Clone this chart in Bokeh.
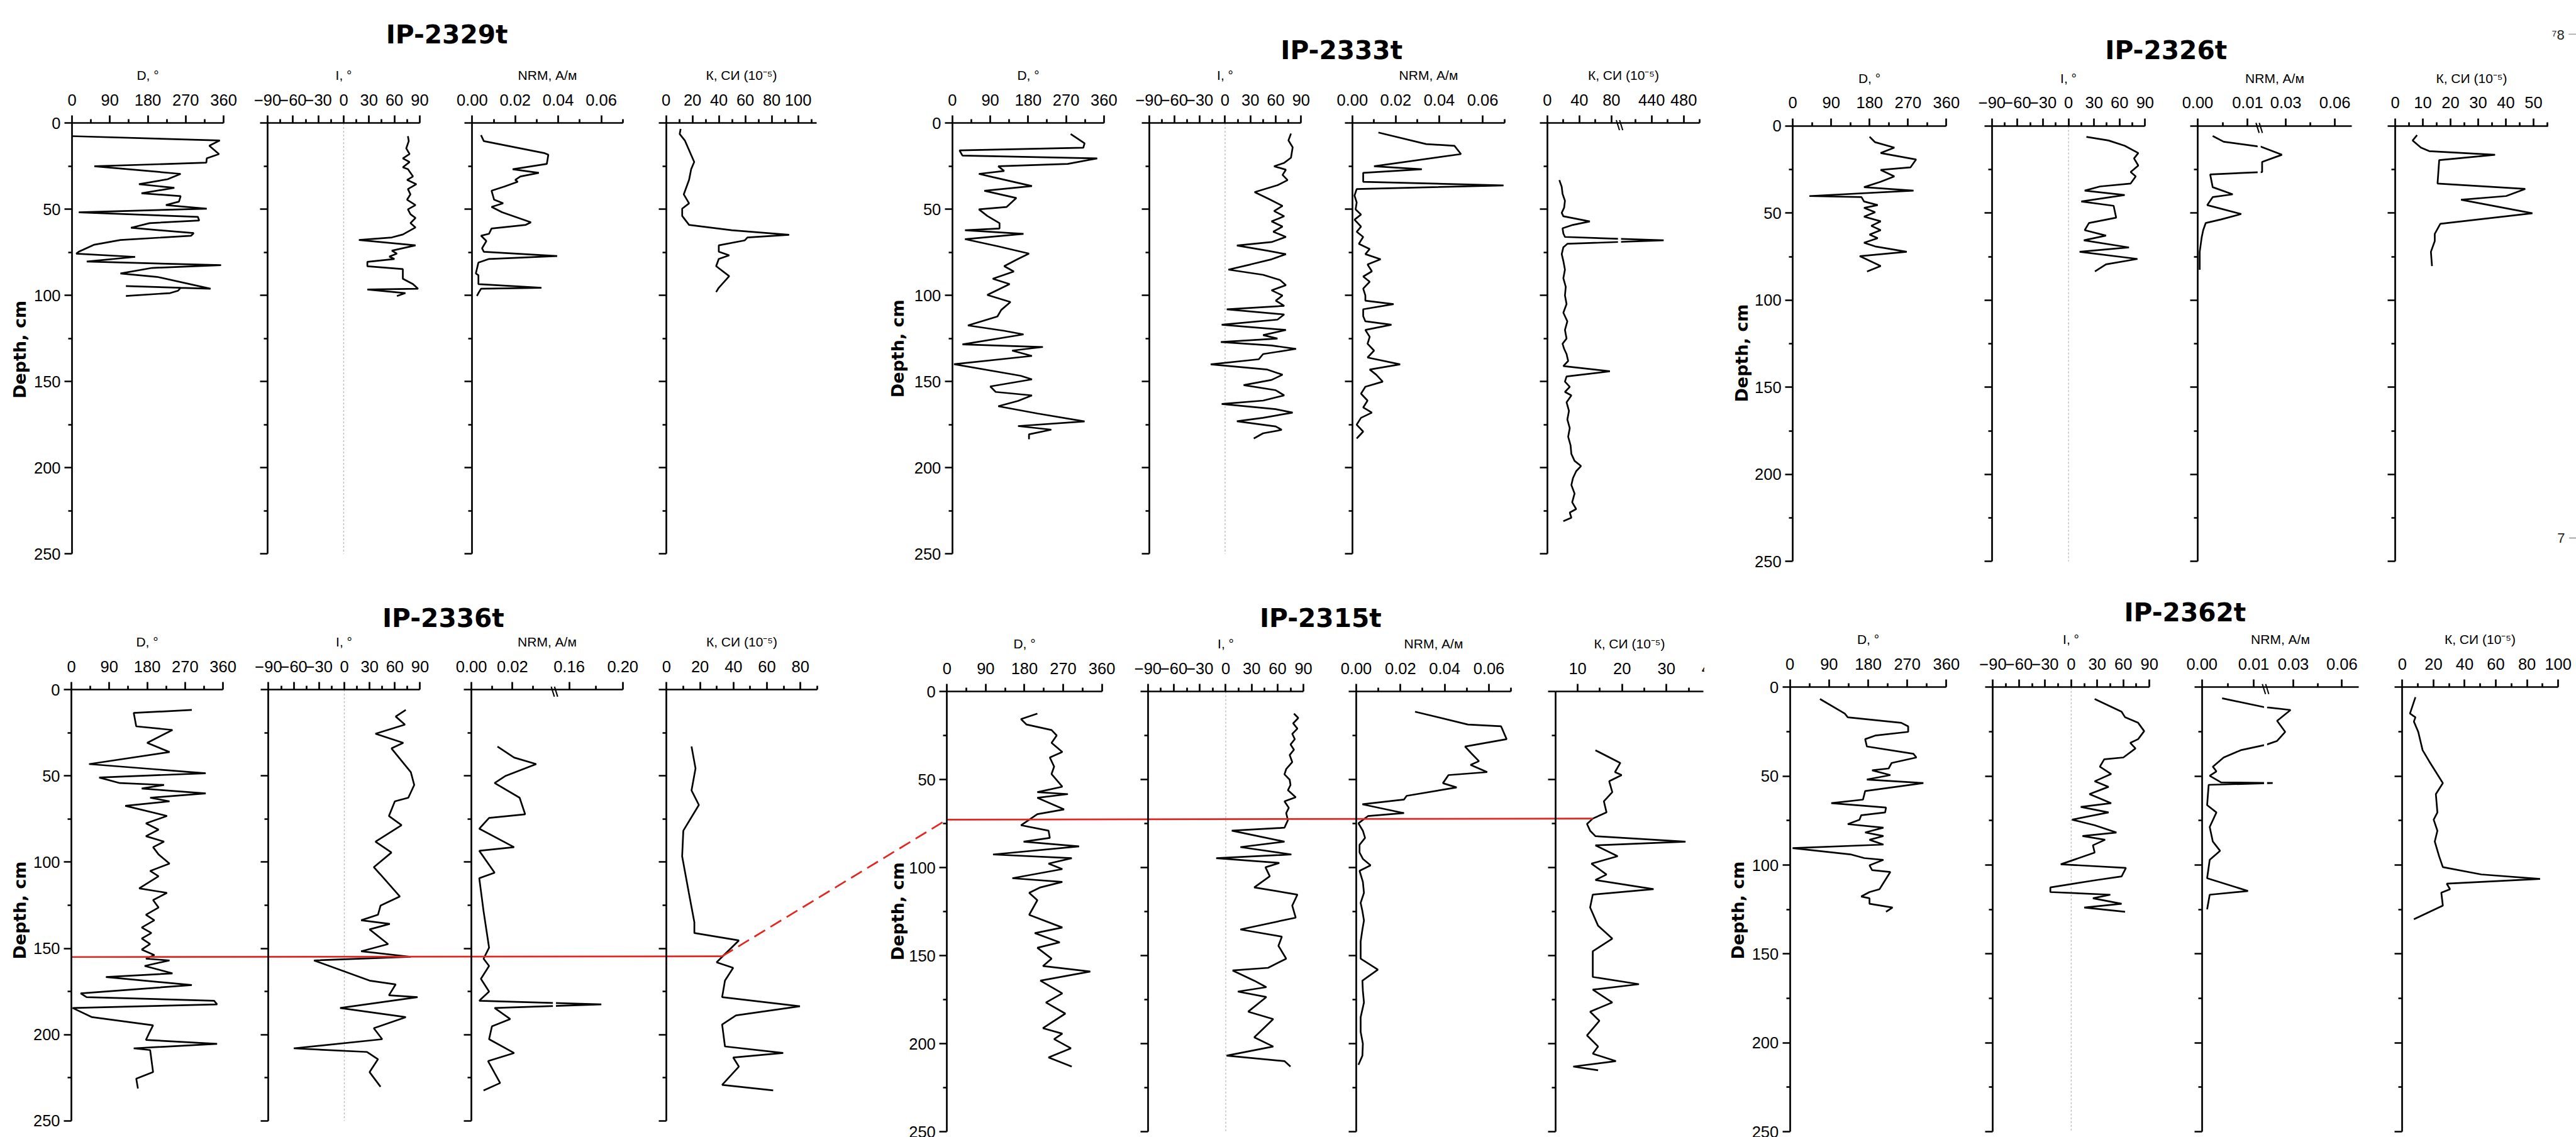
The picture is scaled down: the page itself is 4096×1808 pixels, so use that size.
import math
from bokeh.plotting import figure
from bokeh.models import Range1d, LinearAxis, FixedTicker, Label, BoxAnnotation
from bokeh.embed import file_html
from bokeh.resources import INLINE

# ------------------------------------------------------------------ data
CORES = ["IP-2329t", "IP-2333t", "IP-2326t", "IP-2336t", "IP-2315t", "IP-2362t"]
HEADERS = ["D, °", "I, °", "NRM, А/м", "К, СИ (10⁻⁵)"]
DEPTH_LABEL = "Depth, cm"
DEPTH_TICKS = [0, 50, 100, 150, 200, 250]
DEPTH_MINOR = [25, 75, 125, 175, 225]
D_TICKS = [0, 90, 180, 270, 360]
D_MINOR = [45, 135, 225, 315]
I_TICKS = [-90, -60, -30, 0, 30, 60, 90]
I_MINOR = [-75, -45, -15, 15, 45, 75]
NRM_TICKS = [0.0, 0.02, 0.04, 0.06]
NRM_MINOR = [0.01, 0.03, 0.05, 0.07]
NRM_TICKS_A = [0.0, 0.01, 0.03, 0.06]      # broken axis (IP-2326t, IP-2362t)
NRM_MINOR_A = [0.005, 0.045]
NRM_TICKS_B = [0.0, 0.02, 0.16, 0.20]      # broken axis (IP-2336t)
NRM_MINOR_B = [0.01, 0.03, 0.18]
K_TICKS = {
    "IP-2329t": ([0, 20, 40, 60, 80, 100], [10, 30, 50, 70, 90, 110]),
    "IP-2333t": ([0, 40, 80, 440, 480], [20, 60, 420, 460, 500]),
    "IP-2326t": ([0, 10, 20, 30, 40, 50], [5, 15, 25, 35, 45, 55]),
    "IP-2336t": ([0, 20, 40, 60, 80], [10, 30, 50, 70, 90]),
    "IP-2315t": ([10, 20, 30], [15, 25, 35]),
    "IP-2362t": ([0, 20, 40, 60, 80, 100], [10, 30, 50, 70, 90]),
}
K_CUT_LABEL = "4"   # the "40" label of IP-2315t is cut off by the edge of the source image
K_RANGE = {"IP-2329t": (0, 114), "IP-2333t": (0, 500), "IP-2326t": (0, 55.35),
           "IP-2336t": (0, 90), "IP-2315t": (5, 38.38), "IP-2362t": (0, 100)}
NRM_RANGE = {"IP-2329t": (0, 0.07), "IP-2333t": (0, 0.07), "IP-2326t": (0, 0.0702),
             "IP-2336t": (0, 0.20), "IP-2315t": (0, 0.07), "IP-2362t": (0, 0.0703)}
# axis breaks: (value where the lower part ends, value where the upper part starts, scale ratio)
BREAKS = {("IP-2333t", 3): (90, 400, 1.0),
          ("IP-2326t", 2): (0.0123, 0.0137, 0.3268),
          ("IP-2336t", 2): (0.0405, 0.149, 0.654),
          ("IP-2362t", 2): (0.0123, 0.0129, 0.3136)}

# (depth cm, value) pairs
P1_D = [(7.5,0),(10.0,351),(13.1,326),(17.9,349),(20.4,320),(22.9,319),(25.0,53),(29.4,258),(32.5,227),
        (35.4,159),(37.5,243),(40.7,165),(42.3,258),(45.5,254),(47.5,223),(49.6,320),(51.7,16),(54.4,299),
        (56.5,302),(58.0,184),(60.7,140),(63.8,289),(65.3,283),(67.8,115),(70.5,53),(74.6,16),(75.7,10),
        (77.6,150),(80.3,35),(82.4,354),(84.0,190),(87.2,115),(89.2,202),(96.1,329),(94.5,128),(95.5,258),
        (97.2,252),(98.6,233),(100.3,128)]
P1_I = [(7.5,76),(10.4,77),(14.6,74),(17.9,78),(20.4,70),(22.5,78),(25.6,70),(26.7,76),(30.9,82),(32.9,75),
        (35.4,86),(38.2,76),(41.3,79),(44.4,75),(47.5,85),(50.0,76),(52.8,79),(55.0,85),(58.0,79),(60.5,85),
        (64.6,70),(66.3,57),(67.8,18),(70.9,85),(74.0,57),(75.7,63),(77.4,54),(78.8,60),(80.5,28),(83.0,28),
        (84.7,70),(90.3,70),(93.4,82),(96.1,88),(96.5,28),(98.6,73),(100.3,63)]
P1_NRM = [(6.9,0.0041),(10.4,0.0054),(17.3,0.0334),(18.3,0.0354),(23.6,0.0347),(26.7,0.0188),(28.8,0.031),
          (30.9,0.0224),(32.9,0.020),(34.0,0.0212),(36.7,0.0151),(39.2,0.009),(44.4,0.0102),(46.5,0.0144),
          (48.6,0.009),(51.7,0.0139),(57.5,0.0273),(59.0,0.0249),(61.1,0.009),(64.2,0.0078),(65.3,0.0041),
          (68.4,0.0066),(72.6,0.0046),(74.6,0.0054),(77.1,0.0395),(78.8,0.0078),(80.9,0.0029),(87.2,0.0017),
          (88.2,0.0029),(93.4,0.0029),(95.5,0.0322),(96.1,0.0041),(98.6,0.0029),(100.3,0.0022)]
P1_K = [(3.3,11),(6.3,10.3),(10,14.2),(22.5,21.3),(26.7,19),(32.9,17.4),(41.3,13.4),(46.5,17.4),(49.6,12.2),
        (53.8,12.2),(59,17.4),(62.1,49.8),(64.8,93.2),(66.3,61.6),(68,59.6),(70.9,39.9),(74.6,39.9),
        (76.7,47.8),(78.8,39.9),(83,37.9),(88.8,47.8),(95.5,39.9),(98,37.9)]

P2_D = [(6.3,281),(11.7,314),(14.2,311),(15.8,17),(18.8,24),(20.4,344),(23.6,274),(25.0,109),(27.7,123),
        (29.4,63),(31.3,96),(36.5,189),(39.2,76),(43.4,152),(48.6,129),(50.0,63),(53.8,83),(58.0,112),
        (61.1,112),(62.1,30),(64.2,169),(67.3,30),(71.5,109),(75.7,182),(78.8,156),(83.0,123),(86.1,146),
        (90.3,96),(93.4,136),(99.7,83),(103.8,138),(108.4,116),(112.2,107),(117.4,37),(120.5,123),
        (122.6,169),(128.4,24),(129.9,215),(132.0,142),(135.1,189),(139.9,4),(146.6,162),(148.7,189),
        (152.8,90),(156.0,103),(158.0,189),(161.2,156),(164.3,109),(168.5,202),(173.1,314),(175.8,156),
        (177.9,235),(180.6,182),(183.5,182)]
P2_I = [(6,78),(10,75),(14,80),(20,78),(23,70),(25,58),(27,72),(30,68),(33,74),(36,62),(40,35),(44,52),
        (48,68),(51,58),(54,70),(57,55),(60,68),(63,57),(66,72),(69,55),(71,14),(74,50),(76,72),(79,55),
        (82,30),(85,4),(88,45),(91,65),(94,72),(97,55),(100,68),(103,60),(106,70),(108,2),(111,70),
        (114,62),(117,-4),(120,72),(123,45),(125,62),(127,-5),(129,55),(131,84),(134,45),(137,40),
        (140,-17),(143,50),(146,68),(149,55),(152,22),(155,60),(158,70),(161,45),(163,-4),(166,60),
        (168,80),(171,45),(173,14),(176,60),(178,67),(180,45),(183,34)]
P2_NRM = [(5.4,0.012),(12.1,0.034),(13.1,0.047),(17.9,0.050),(25.0,0.010),(26.7,0.032),(28.8,0.005),
          (34.0,0.005),(36.1,0.0696),(38.2,0.002),(42,0.001),(46,0.002),(50,0.0015),(53,0.004),(56,0.001),
          (60,0.004),(63,0.002),(66,0.005),(70,0.003),(73,0.008),(76,0.006),(79,0.013),(82,0.007),(86,0.009),
          (89,0.005),(92,0.008),(96,0.005),(100,0.006),(103,0.006),(105,0.019),(108,0.005),(112,0.005),
          (115,0.006),(117,0.018),(120,0.006),(124,0.008),(128,0.007),(132,0.010),(136,0.007),(140,0.022),
          (143,0.008),(146,0.011),(150,0.014),(153,0.006),(157,0.004),(161,0.007),(165,0.005),(168,0.009),
          (171,0.004),(175,0.002),(179,0.005),(183,0.002)]
P2_K = [(33,15),(37,18),(41,19),(45,22),(49,21),(52,18),(54,20),(57,53),(59,32),(61,19),(64,20),(66,22),
        (68,455),(70,25),(72,20),(76,18),(80,20),(85,22),(90,20),(95,23),(100,22),(105,24),(110,20),
        (115,25),(120,22),(125,24),(128,19),(131,21),(134,24),(138,26),(141,20),(144,78),(147,24),
        (150,22),(153,28),(156,22),(158,30),(162,24),(167,27),(172,25),(177,28),(182,26),(187,29),
        (192,30),(196,34),(199,42),(202,36),(206,32),(210,30),(215,34),(220,31),(224,36),(226,28),
        (229,30),(231,20)]

P3_D = [(6.2,180),(9.3,193),(12.4,238),(15.5,206),(19.2,289),(23.7,276),(25.2,206),(28.9,238),(32.0,206),
        (35.1,167),(37.1,283),(40.2,39),(40.8,161),(43.3,167),(45.4,199),(47.0,167),(49.5,193),(52.0,167),
        (54.7,206),(57.3,184),(59.8,206),(62.3,180),(64.4,199),(67.0,167),(69.1,193),(72.2,267),
        (74.7,157),(80.4,206),(83.5,174)]
P3_I = [(6.2,21),(8.3,47),(11.3,66),(15.5,82),(18.6,77),(22.7,82),(26.4,73),(28.9,79),(33.0,73),(34.7,37),
        (37.1,19),(39.6,66),(43.3,15),(45.8,53),(52.6,56),(55.7,24),(59.8,19),(62.9,44),(65.6,18),
        (69.7,71),(72.2,13),(76.3,81),(79.4,44),(83.5,31)]
P3_NRM = [(5.7,0.003),(9.0,0.0052),(11.6,0.0119),(11.8,0.0145),(16.5,0.0276),(20.6,0.0155),(26.4,0.0155),
          (27.8,0.0025),(35.1,0.0030),(39.2,0.0070),(40.8,0.0030),(45.4,0.0019),(50.5,0.0087),
          (53.6,0.0047),(55.7,0.0016),(59.8,0.0011),(63.9,0.0008),(72.2,0.0004),(82.5,0.0004)]
P3_K = [(5.2,7.9),(8.3,6.3),(12.4,9.3),(14.4,12.3),(16.5,36.1),(19.6,15.9),(33.0,15.3),(36.1,47.0),
        (40.2,40.1),(42.3,23.8),(50.1,49.6),(56.1,16.3),(61.9,14.3),(66.0,14.3),(72.2,12.9),(80.4,13.3)]

P4_D = [(11.7,286),(13.4,148),(21.2,154),(23.3,240),(30.8,180),(36.1,233),(43.1,42),(48.4,319),(50.9,66),
        (54.1,115),(55.2,220),(57.3,167),(60.1,319),(62.6,187),(64.7,233),(67.3,128),(73.2,227),(77.5,177),
        (81.1,207),(84.9,177),(88.1,220),(91.3,194),(95.5,207),(100.8,233),(105.1,187),(108.2,207),
        (115.2,161),(117.8,227),(122.0,194),(126.3,207),(130.5,177),(133.7,197),(137.9,167),(141.1,190),
        (144.3,167),(147.5,187),(150.7,167),(153.9,197),(156.0,177),(157.0,233),(160.2,174),(164.5,240),
        (166.6,82),(171.3,286),(176.1,22),(178.3,36),(180.4,339),(182.5,346),(184.6,3),(189.9,49),
        (194.6,194),(199.5,184),(203.1,177),(205.4,346),(208.0,148),(209.0,187),(221.8,194),(225.6,154),
        (231.3,158)]
P4_I = [(11.7,73),(15.5,61),(20.2,72),(25.5,37),(30.8,70),(34.0,56),(47.8,79),(55.2,83),(62.6,76),(64.7,60),
        (73.2,53),(78.5,68),(88.1,37),(94.4,56),(102.9,35),(107.2,43),(119.9,66),(125.2,43),(130.5,40),
        (133.7,20),(135.8,54),(139.0,30),(147.5,52),(151.7,20),(154.9,79),(157.0,-36),(168.7,30),
        (170.9,61),(177.2,53),(178.3,87),(184.6,-5),(189.9,73),(196.3,35),(202.7,45),(208.0,-60),
        (210.1,27),(214.3,40),(221.8,30),(230.3,43)]
P4_NRM = [(32.9,0.0127),(39.3,0.0208),(43.1,0.0316),(49.9,0.0167),(54.1,0.0113),(62.6,0.0235),
          (72.2,0.0262),(74.3,0.0086),(80.6,0.0038),(91.3,0.0208),(93.4,0.0038),(106.1,0.0113),
          (109.3,0.0038),(128.4,0.0059),(149.6,0.0086),(156.0,0.0059),(160.2,0.0086),(167.7,0.0046),
          (175.1,0.0086),(180.4,0.0038),(182.5,0.184),(184.6,0.0113),(191.0,0.0189),(195.2,0.010),
          (202.7,0.0086),(210.7,0.0208),(215.4,0.0081),(228.1,0.014),(232.4,0.0059)]
P4_K = [(32.9,14.9),(45.6,17.3),(58.4,14.9),(66.8,19.3),(81.7,10.0),(96.6,9.3),(117.8,13.3),(134.8,16.6),
        (141.1,16.6),(145.4,43.2),(154.9,33.2),(158.1,29.9),(161.3,39.8),(168.7,34.9),(178.3,33.2),
        (183.6,79.7),(188.9,41.5),(194.2,33.2),(206.9,34.9),(210.7,69.7),(213.3,39.8),(218.6,43.2),
        (229.2,33.2),(232.4,63.7)]

P5_D = [(12.5,210),(15.6,172),(18.7,185),(21.8,243),(24.9,255),(29.1,243),(34.3,268),(37.4,239),(42.6,249),
        (46.8,243),(54.0,268),(57.1,210),(58.2,281),(60.3,210),(66.9,272),(69.6,210),(75.9,172),(79.0,236),
        (83.1,239),(85.2,178),(87.9,307),(92.5,107),(94.6,290),(97.7,236),(100.8,268),(106.0,152),
        (108.1,268),(111.2,217),(114.3,191),(118.5,210),(126.8,191),(134.0,268),(137.2,204),(142.4,262),
        (145.5,210),(151.7,243),(155.9,223),(159.0,333),(164.2,217),(171.4,268),(176.6,230),(182.9,275),
        (191.2,223),(194.3,268),(197.4,249),(202.6,288),(207.8,236),(213.0,290)]
P5_I = [(12.5,79),(15,84),(18,78),(21,83),(24,77),(27,80),(30,75),(33,79),(36,74),(40,77),(44,70),(47,68),
        (50,74),(53,75),(56,72),(60,81),(62.3,68),(66,73),(69,70),(73,72),(77.3,68),(79.0,7),(85.2,68),
        (88.3,17),(92.5,76),(94.6,-11),(97.3,62),(99.8,46),(104.9,51),(111.2,33),(115.3,83),(121.6,77),
        (128.4,81),(135.1,17),(139.2,65),(144.4,61),(151.7,70),(156.9,49),(158.4,8),(164.2,33),
        (167.9,47),(170.4,14),(173.5,47),(181.8,26),(186.0,55),(196.4,33),(201.6,55),(206.8,1),
        (209.9,68),(213.0,75)]
P5_NRM = [(11.4,0.0266),(18.7,0.0505),(19.7,0.0655),(27.0,0.068),(31.2,0.0492),(35,0.052),(39.5,0.0555),
          (41.6,0.0517),(45.7,0.0592),(47.4,0.0417),(52.0,0.0392),(54.4,0.0454),(59.2,0.0228),
          (61.3,0.0216),(64.0,0.0028),(69.0,0.0216),(70.7,0.0053),(74.8,0.001),(79,0.003),(83.1,0.004),
          (87,0.0015),(91.4,0.0015),(95,0.003),(98.7,0.0065),(101.8,0.0015),(108,0.003),(114.3,0.0035),
          (120,0.002),(124.7,0.0028),(130,0.0035),(135.1,0.0028),(142,0.002),(151.7,0.002),(157.9,0.0098),
          (164.2,0.0028),(170,0.003),(176.6,0.0035),(185,0.002),(193.3,0.002),(200,0.003),(206.8,0.0028),
          (212.0,0.001)]
P5_K = [(33.3,14.0),(40.5,19.6),(45.7,18.4),(47.4,19.9),(50.9,17.1),(57.1,17.8),(62.3,15.9),(68.6,16.5),
        (72.1,13.4),(75.2,12.1),(79.0,12.8),(82.1,14.0),(85.2,34.3),(87.3,14.0),(93.5,19.0),(97.7,13.1),
        (103.9,16.5),(107.0,14.0),(112.2,27.1),(115.3,13.4),(122.6,12.8),(133.0,14.6),(140.3,17.8),
        (147.5,13.4),(162.1,13.4),(166.2,23.8),(169.3,13.4),(176.6,17.8),(181.8,12.8),(187.0,14.9),
        (195.3,12.1),(201.6,14.6),(205.7,13.4),(209.9,18.6),(213.0,9.0),(215.1,14.6)]

P6_D = [(6.6,69),(14.8,126),(16.9,133),(20.0,256),(22.0,272),(25.1,272),(27.2,196),(29.2,173),(33.3,177),
        (37.4,284),(39.5,291),(42.6,234),(45.7,227),(46.7,189),(49.4,231),(51.9,177),(53.9,307),(58.4,173),
        (63.2,168),(65.2,95),(67.7,221),(70.4,219),(72.0,164),(74.5,160),(77.0,133),(79.0,215),(81.7,173),
        (83.7,215),(85.8,183),(88.5,215),(90.5,6),(94.0,139),(96.1,171),(97.1,215),(100.2,183),(102.9,189),
        (103.9,231),(107.8,221),(113.6,206),(115.2,183),(117.7,164),(118.7,183),(121.8,183),(123.9,236),
        (126.3,221)]
P6_I = [(6.6,27),(13.8,58),(16.9,62),(20.0,77),(24.7,84),(29.2,77),(31.3,68),(34.4,74),(39.5,60),(40.5,38),
        (44.7,33),(48.8,46),(52.9,27),(56.0,43),(60.1,21),(65.2,46),(67.3,11),(70.4,43),(74.5,1),(77.6,27),
        (81.7,52),(83.7,13),(85.8,39),(88.9,25),(93.0,27),(99.6,-12),(101.6,63),(106.4,58),(108.4,30),
        (112.6,-24),(115.2,-24),(116.7,45),(118.7,25),(121.8,58),(123.9,15),(126.3,62)]
P6_NRM = [(6.2,0.0039),(11.3,0.0122),(11.4,0.015),(12.8,0.0283),(18.9,0.020),(25.1,0.025),(30.2,0.020),
          (32.3,0.0134),(35.4,0.0075),(39.5,0.0042),(44.7,0.0021),(47.3,0.0028),(49.8,0.0015),
          (53.5,0.0037),(53.9,0.0173),(54.9,0.0013),(66.3,0.001),(70.4,0.0028),(78.6,0.0015),(86.8,0.0021),
          (92.0,0.0035),(97.1,0.0015),(107.4,0.001),(114.6,0.0089),(116.7,0.0015),(124.9,0.001)]
P6_K = [(5.6,8.4),(14.8,4.9),(16.9,8.4),(19.3,7.4),(25.1,10.2),(35.4,13.0),(41.6,17.2),(53.9,26.0),
        (60.1,21.5),(70.4,22.5),(74.5,20.1),(80.7,22.5),(86.8,20.8),(95.1,23.6),(101.2,26.0),(105.3,50.7),
        (107.8,88.4),(110.5,28.5),(113.6,30.6),(115.6,25.0),(122.8,26.0),(130.5,7.4)]

SERIES = [[P1_D, P1_I, P1_NRM, P1_K], [P2_D, P2_I, P2_NRM, P2_K], [P3_D, P3_I, P3_NRM, P3_K],
          [P4_D, P4_I, P4_NRM, P4_K], [P5_D, P5_I, P5_NRM, P5_K], [P6_D, P6_I, P6_NRM, P6_K]]

# correlation tie lines: (depth, value) at the D-axis start and where they meet the K curve
CORR_2336 = [(155.0, 0.0), (154.6, 33.2)]
CORR_2315 = [(72.7, 0.0), (72.1, 13.4)]

# ------------------------------------------------------------------ layout (reference pixels)
GEOM = [
    dict(y0=240, y250=1081, title=(872, 67), dlab=(38, 682),
         x=[(140, 436), (522, 819), (921.4, 1215.4), (1300, 1594)]),
    dict(y0=240, y250=1081, title=(2619, 98), dlab=(1752, 680),
         x=[(1859, 2155), (2243, 2540), (2640, 2937), (3020.7, 3318.4)]),
    dict(y0=245.5, y250=1095.8, title=(4229, 98), dlab=(3401, 689),
         x=[(3500, 3800), (3889, 4188), (4290.7, 4591), (4676.4, 4975.3)]),
    dict(y0=1346.4, y250=2187.9, title=(865, 1206), dlab=(37.5, 1777),
         x=[(138.8, 434.8), (523.7, 819.7), (920, 1215.4), (1301, 1595)]),
    dict(y0=1350, y250=2209.3, title=(2578, 1207), dlab=(1752, 1779),
         x=[(1848.5, 2151), (2241, 2544.6), (2647.6, 2949.9), (3036.7, 3326)]),
    dict(y0=1341.4, y250=2209.3, title=(4266, 1196), dlab=(3393, 1777),
         x=[(3494.6, 3800), (3891, 4196.4), (4299, 4605), (4690.3, 4994.6)]),
]

S = 4096 / 5030
W, H = 4096, 1808
def fx(X): return X * S
def fy(Y): return Y * S

FONT = "Liberation Sans"
BOLD = "DejaVu Sans"
LW = 2.7
AW = 2.7
RED = "#e3261f"
TICK_FS = "25.5px"

p = figure(width=W, height=H, x_range=Range1d(0, W), y_range=Range1d(H, 0),
           output_backend="svg", toolbar_location=None,
           x_axis_location=None, y_axis_location=None, min_border=0)
p.grid.visible = False
p.outline_line_color = None
p.background_fill_color = "white"
p.border_fill_color = "white"


def to_u(v, brk):
    if brk is None:
        return v
    lo, hi, k = brk
    return v if v <= lo else lo + (v - hi) * k


def fmt_int(v):
    return ("−" + str(int(abs(v)))) if v < 0 else str(int(v))


def fmt2(v):
    return "%.2f" % v


def style(ax):
    ax.axis_line_width = AW
    ax.axis_line_color = "black"
    ax.major_tick_line_width = AW
    ax.minor_tick_line_width = AW
    ax.major_tick_line_color = "black"
    ax.minor_tick_line_color = "black"
    ax.major_tick_in = 0
    ax.major_tick_out = 12
    ax.minor_tick_in = 0
    ax.minor_tick_out = 6
    ax.major_label_text_font = FONT
    ax.major_label_text_font_size = TICK_FS
    ax.major_label_text_color = "black"
    ax.major_label_standoff = 16
    ax.axis_label_text_font = FONT
    ax.axis_label_text_font_size = "21px"
    ax.axis_label_text_font_style = "normal"
    ax.axis_label_text_color = "black"
    ax.axis_label_standoff = 16


MAP = {}   # (panel, track) -> (screen a, units per px, u0, brk)
DMAP = {}  # panel -> (screen y of depth 0, depth per px)

for pi, core in enumerate(CORES):
    g = GEOM[pi]
    yname = "y%d" % pi
    c, d = fy(g["y0"]), fy(g["y250"])
    kd = 250.0 / (d - c)
    p.extra_y_ranges[yname] = Range1d((H - c) * kd, -c * kd)
    DMAP[pi] = (c, kd)

    specs = [
        ((0, 360), D_TICKS, D_MINOR, fmt_int),
        ((-90, 90), I_TICKS, I_MINOR, fmt_int),
        (NRM_RANGE[core],) + ((NRM_TICKS_A, NRM_MINOR_A) if core in ("IP-2326t", "IP-2362t")
                              else (NRM_TICKS_B, NRM_MINOR_B) if core == "IP-2336t"
                              else (NRM_TICKS, NRM_MINOR)) + (fmt2,),
        (K_RANGE[core], K_TICKS[core][0], K_TICKS[core][1], fmt_int),
    ]
    for ti, (vr, major, minor, fmt) in enumerate(specs):
        brk = BREAKS.get((core, ti))
        xname = "x%d_%d" % (pi, ti)
        a, b = fx(g["x"][ti][0]), fx(g["x"][ti][1])
        u0, u1 = to_u(vr[0], brk), to_u(vr[1], brk)
        k = (u1 - u0) / (b - a)
        p.extra_x_ranges[xname] = Range1d(u0 - a * k, u0 + (W - a) * k)
        MAP[(pi, ti)] = (a, k, u0, brk)

        ticks = [to_u(v, brk) for v in major]
        mticks = [to_u(v, brk) for v in minor]
        top = LinearAxis(x_range_name=xname, y_range_name=yname, fixed_location=0,
                         bounds=(u0, u1), ticker=FixedTicker(ticks=ticks, minor_ticks=mticks),
                         major_label_overrides={t: fmt(v) for t, v in zip(ticks, major)},
                         axis_label=HEADERS[ti])
        style(top)
        p.add_layout(top, "above")

        left = LinearAxis(x_range_name=xname, y_range_name=yname, fixed_location=u0,
                          bounds=(0, 250),
                          ticker=FixedTicker(ticks=DEPTH_TICKS, minor_ticks=DEPTH_MINOR))
        style(left)
        left.major_label_standoff = 6
        if ti > 0:
            left.major_label_text_color = None
        p.add_layout(left, "left")

        if ti == 1:
            p.line([0, 0], [0, 250], x_range_name=xname, y_range_name=yname,
                   line_color="#b8b8b8", line_width=1.3, line_dash="3 3")

        data = SERIES[pi][ti]
        p.line([to_u(q[1], brk) for q in data], [q[0] for q in data],
               x_range_name=xname, y_range_name=yname, line_color="black", line_width=LW)

        if brk is not None:
            ub = brk[0]
            hw = 3.0 * S * k
            p.quad(left=ub - hw, right=ub + hw, top=1.5, bottom=250, x_range_name=xname,
                   y_range_name=yname, fill_color="white", line_color=None)

    # titles and depth label
    p.add_layout(Label(x=fx(g["title"][0]), y=fy(g["title"][1]), text=core, text_font=BOLD,
                       text_font_style="bold", text_font_size="40.7px", text_align="center",
                       text_baseline="middle", text_color="black"))
    p.add_layout(Label(x=fx(g["dlab"][0]), y=fy(g["dlab"][1]), text=DEPTH_LABEL, text_font=BOLD,
                       text_font_style="bold", text_font_size="27px", text_align="center",
                       text_baseline="middle", angle=math.pi / 2, text_color="black"))


def scr(pi, ti, v, depth):
    a, k, u0, brk = MAP[(pi, ti)]
    c, kd = DMAP[pi]
    return a + (to_u(v, brk) - u0) / k, c + depth / kd


# axis-break marks
for (core, ti), brk in BREAKS.items():
    pi = CORES.index(core)
    bx, by = scr(pi, ti, brk[0], 0)
    for off in (-2.6, 2.6):
        p.line([bx + off - 2.5, bx + off + 2.5], [by - 5, by + 11], line_color="black",
               line_width=2.0, level="overlay")

# the cut-off "40" label of the IP-2315t K axis (only its first digit, partly, is visible)
cx, cy = scr(4, 3, 38.38, 0)
p.add_layout(Label(x=cx + 4, y=cy - 12 - 16, text=K_CUT_LABEL, text_font=FONT, text_font_size=TICK_FS,
                   text_align="center", text_baseline="bottom", text_color="black"))
p.add_layout(BoxAnnotation(left=cx + 1, right=cx + 20, top=cy - 70, bottom=cy - 14,
                           fill_color="white", fill_alpha=1.0, line_color=None, level="annotation"))

# correlation lines
x0, y0 = scr(3, 0, CORR_2336[0][1], CORR_2336[0][0])
x1, y1 = scr(3, 3, CORR_2336[1][1], CORR_2336[1][0])
x2, y2 = scr(4, 0, CORR_2315[0][1], CORR_2315[0][0])
x3, y3 = scr(4, 3, CORR_2315[1][1], CORR_2315[1][0])
p.line([x0, x1], [y0, y1], line_color=RED, line_width=LW)
p.line([x1, x2], [y1, y2], line_color=RED, line_width=LW, line_dash="20 10")
p.line([x2, x3], [y2, y3], line_color=RED, line_width=LW)

# cropped fragments of a neighbouring figure at the right edge
p.add_layout(Label(x=fx(5007), y=fy(68), text="⁷8", text_font=FONT, text_font_size="22px",
                   text_align="right", text_baseline="middle", text_color="#222222"))
p.add_layout(Label(x=fx(5008), y=fy(1050), text="7", text_font=FONT, text_font_size="22px",
                   text_align="right", text_baseline="middle", text_color="#222222"))
p.segment(x0=[fx(5015), fx(5016)], y0=[fy(66), fy(1050)], x1=[fx(5030), fx(5030)],
          y1=[fy(66), fy(1050)], line_color="#777777", line_width=1.2)

open("out.html", "w").write(file_html(p, INLINE))
